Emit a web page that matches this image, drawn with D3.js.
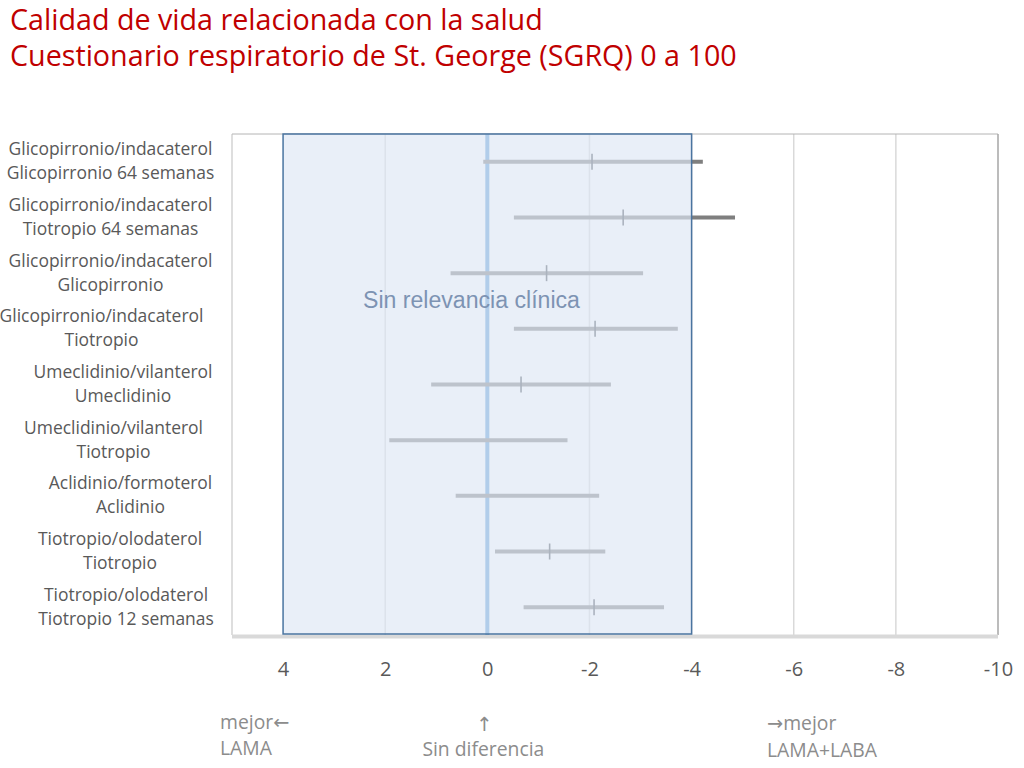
<!DOCTYPE html>
<html>
<head>
<meta charset="utf-8">
<script src="https://cdn.jsdelivr.net/npm/d3@7"></script>
<style>
  body { margin: 0; background: #fff; }
  svg { display: block; }
</style>
</head>
<body>
<svg id="chart" width="1024" height="768"></svg>
<script>
// Comparisons (two-line labels)
const labelTop = ["Glicopirronio/indacaterol", "Glicopirronio/indacaterol", "Glicopirronio/indacaterol", "Glicopirronio/indacaterol", "Umeclidinio/vilanterol", "Umeclidinio/vilanterol", "Aclidinio/formoterol", "Tiotropio/olodaterol", "Tiotropio/olodaterol"]
const labelBottom = ["Glicopirronio 64 semanas", "Tiotropio 64 semanas", "Glicopirronio", "Tiotropio", "Umeclidinio", "Tiotropio", "Aclidinio", "Tiotropio", "Tiotropio 12 semanas"]
// Difference in SGRQ score with 95% CI (null = no marker shown)
const meanDiff = [-2.05, -2.66, -1.16, -2.11, -0.66, null, null, -1.22, -2.09]
const ciLow = [0.08, -0.52, 0.72, -0.52, 1.10, 1.92, 0.62, -0.15, -0.71]
const ciHigh = [-4.22, -4.85, -3.05, -3.73, -2.42, -1.57, -2.19, -2.31, -3.46]
const xTicks = [4, 2, 0, -2, -4, -6, -8, -10]
const relevanceBand = [4, -4] // "Sin relevancia clínica" zone

// layout
const plot = {left: 232, right: 998, top: 134, bottom: 635}
const labelCenterX = [110.5, 110.5, 110.5, 101.5, 123, 113.5, 130.5, 120, 126]
const font = "'Open Sans', sans-serif"
const arrowFont = "'DejaVu Sans', sans-serif"

const svg = d3.select("#chart")

// font size that makes a string a given width
function sizeFor(str, width, family) {
  const t = svg.append("text").attr("font-family", family).attr("font-size", 100).text(str)
  const w = t.node().getComputedTextLength()
  t.remove()
  return 100 * width / w
}

const x = d3.scaleLinear().domain([5, -10]).range([plot.left, plot.right])
const y = d3.scaleBand().domain(d3.range(labelTop.length)).range([plot.top, plot.bottom])

// Title
const titleSize = sizeFor("Calidad de vida relacionada con la salud", 533, font)
svg.append("text")
  .attr("x", 10).attr("y", 29.5)
  .attr("font-family", font)
  .attr("font-size", titleSize)
  .attr("fill", "#c00000")
  .text("Calidad de vida relacionada con la salud")
svg.append("text")
  .attr("x", 10).attr("y", 65.5)
  .attr("font-family", font)
  .attr("font-size", titleSize)
  .attr("fill", "#c00000")
  .text("Cuestionario respiratorio de St. George (SGRQ) 0 a 100")

// Gridlines
svg.selectAll(".grid")
  .data(xTicks.filter(d => d !== 0 && d !== 4 && d !== -10))
  .join("line")
  .attr("class", "grid")
  .attr("x1", d => x(d)).attr("x2", d => x(d))
  .attr("y1", plot.top).attr("y2", plot.bottom)
  .attr("stroke", "#d9d9d9")
  .attr("stroke-width", 1.5)

// Plot frame
svg.append("line")
  .attr("x1", plot.left).attr("x2", plot.right)
  .attr("y1", plot.top).attr("y2", plot.top)
  .attr("stroke", "#b4b4b4").attr("stroke-width", 1)
svg.append("line")
  .attr("x1", plot.left).attr("x2", plot.left)
  .attr("y1", plot.top).attr("y2", plot.bottom)
  .attr("stroke", "#bdbdbd").attr("stroke-width", 1)
svg.append("line")
  .attr("x1", plot.right).attr("x2", plot.right)
  .attr("y1", plot.top).attr("y2", plot.bottom)
  .attr("stroke", "#a6a6a6").attr("stroke-width", 1.5)

// Zero line
svg.append("line")
  .attr("x1", x(0)).attr("x2", x(0))
  .attr("y1", plot.top).attr("y2", plot.bottom + 3)
  .attr("stroke", "#5b9bd5")
  .attr("stroke-width", 4)

// Confidence intervals
svg.selectAll(".ci")
  .data(d3.range(labelTop.length))
  .join("line")
  .attr("class", "ci")
  .attr("x1", i => x(ciLow[i])).attr("x2", i => x(ciHigh[i]))
  .attr("y1", i => y(i) + y.bandwidth() / 2).attr("y2", i => y(i) + y.bandwidth() / 2)
  .attr("stroke", "#7f7f7f")
  .attr("stroke-width", 4)

// Mean markers
svg.selectAll(".mean")
  .data(d3.range(labelTop.length).filter(i => meanDiff[i] !== null))
  .join("line")
  .attr("class", "mean")
  .attr("x1", i => x(meanDiff[i])).attr("x2", i => x(meanDiff[i]))
  .attr("y1", i => y(i) + y.bandwidth() / 2 - 8).attr("y2", i => y(i) + y.bandwidth() / 2 + 8)
  .attr("stroke", "#4a4f57")
  .attr("stroke-width", 1.6)

// Bottom axis line
svg.append("line")
  .attr("x1", plot.left).attr("x2", plot.right)
  .attr("y1", plot.bottom + 1.5).attr("y2", plot.bottom + 1.5)
  .attr("stroke", "#d9d9d9")
  .attr("stroke-width", 4)

// Relevance band overlay
svg.append("rect")
  .attr("x", x(relevanceBand[0]))
  .attr("y", plot.top)
  .attr("width", x(relevanceBand[1]) - x(relevanceBand[0]))
  .attr("height", plot.bottom - plot.top - 1)
  .attr("fill", "#dde7f4")
  .attr("fill-opacity", 0.66)
  .attr("stroke", "#4a74a0")
  .attr("stroke-width", 1.5)

const bandFont = "'Liberation Sans', Arial, sans-serif"
svg.append("text")
  .attr("x", 363).attr("y", 308)
  .attr("font-family", bandFont)
  .attr("font-size", sizeFor("Sin relevancia clínica", 217, bandFont))
  .attr("fill", "#7d93b3")
  .text("Sin relevancia clínica")

// X axis labels
const xAxis = svg.append("g")
  .attr("transform", `translate(0,${plot.bottom})`)
  .call(d3.axisBottom(x).tickValues(xTicks).tickSize(0).tickPadding(27).tickFormat(d => d))
xAxis.select(".domain").remove()
xAxis.selectAll("text")
  .attr("font-family", font)
  .attr("font-size", 20)
  .attr("fill", "#595959")

// Row labels
const rows = svg.selectAll(".rowlabel")
  .data(d3.range(labelTop.length))
  .join("text")
  .attr("class", "rowlabel")
  .attr("font-family", font)
  .attr("font-size", sizeFor("Glicopirronio/indacaterol", 204, font))
  .attr("fill", "#595959")
  .attr("text-anchor", "middle")
rows.append("tspan")
  .attr("x", i => labelCenterX[i])
  .attr("y", i => y(i) + y.bandwidth() / 2 - 6.5)
  .text(i => labelTop[i])
rows.append("tspan")
  .attr("x", i => labelCenterX[i])
  .attr("y", i => y(i) + y.bandwidth() / 2 + 17.5)
  .text(i => labelBottom[i])

// Direction notes
const notes = svg.append("g")
  .attr("font-family", font)
  .attr("font-size", sizeFor("Sin diferencia", 122, font))
  .attr("fill", "#8c8c8c")
const left = notes.append("text").attr("x", 220).attr("y", 729)
left.append("tspan").text("mejor")
left.append("tspan").attr("font-family", arrowFont).text("←")
notes.append("text").attr("x", 220).attr("y", 755).text("LAMA")
notes.append("text").attr("x", x(0) - 3).attr("y", 731).attr("text-anchor", "middle")
  .attr("font-family", arrowFont).text("↑")
notes.append("text").attr("x", x(0) - 4).attr("y", 756).attr("text-anchor", "middle").text("Sin diferencia")
const right = notes.append("text").attr("x", 767).attr("y", 730)
right.append("tspan").attr("font-family", arrowFont).text("→")
right.append("tspan").text("mejor")
notes.append("text").attr("x", 767).attr("y", 757).text("LAMA+LABA")
</script>
</body>
</html>
